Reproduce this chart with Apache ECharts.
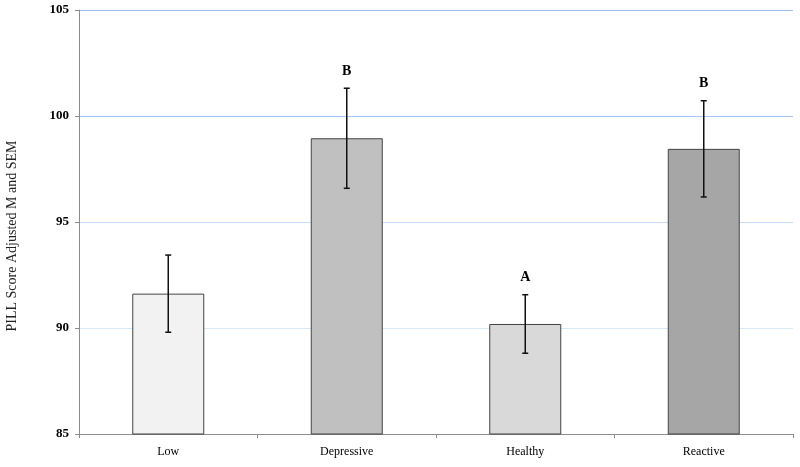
<!DOCTYPE html>
<html><head><meta charset="utf-8">
<script src="https://cdn.jsdelivr.net/npm/echarts@6/dist/echarts.min.js"></script>
<style>html,body{margin:0;padding:0;background:#fff}#c{width:800px;height:467px}</style>
</head><body><div id="c"></div>
<script>
const categories = ['Low', 'Depressive', 'Healthy', 'Reactive'];
const means = [91.62, 98.95, 90.19, 98.45];
const sems = [1.82, 2.36, 1.38, 2.27];
const letters = ['', 'B', 'A', 'B'];
const barColors = ['#f2f2f2', '#c0c0c0', '#d9d9d9', '#a6a6a6'];
const yTicks = [85, 90, 95, 100, 105];
const yAxisTitle = 'PILL Score Adjusted M and SEM';

const serif = '"Liberation Serif", "DejaVu Serif", serif';
const chart = echarts.init(document.getElementById('c'));
chart.setOption({
  animation: false,
  graphic: [{
    type: 'text', x: 12, y: 236, rotation: Math.PI / 2,
    style: { text: yAxisTitle, fill: '#222', font: '14px ' + serif, align: 'center', verticalAlign: 'middle' }
  }],
  grid: { left: 79, right: 7, top: 10, bottom: 33 },
  xAxis: {
    type: 'category', data: categories,
    axisLine: { lineStyle: { color: '#8c8c8c', width: 1 } },
    axisTick: { show: true, length: 4, lineStyle: { color: '#8c8c8c' } },
    axisLabel: { color: '#000', fontFamily: serif, fontSize: 12, margin: 12 }
  },
  yAxis: {
    type: 'value', min: yTicks[0], max: yTicks[yTicks.length - 1], interval: 5,
    axisLine: { show: true, lineStyle: { color: '#8c8c8c', width: 1 } },
    axisTick: { show: true, length: 4, lineStyle: { color: '#8c8c8c' } },
    axisLabel: { color: '#000', fontFamily: serif, fontSize: 13, fontWeight: 'bold', margin: 10 },
    splitLine: { show: true, lineStyle: { color: ['#ffffff', '#d6eaf8', '#c8def6', '#a9c5f1', '#a0bdf0'], width: 1 } }
  },
  series: [
    {
      type: 'bar', barWidth: 72,
      data: means.map((v, i) => ({ value: v, itemStyle: { color: barColors[i] } })),
      itemStyle: { borderColor: '#444', borderWidth: 1 }
    },
    {
      type: 'custom',
      data: means.map((v, i) => [i, v - sems[i], v + sems[i], letters[i]]),
      renderItem: function (params, api) {
        const x = api.coord([api.value(0), 0])[0];
        const lo = api.coord([api.value(0), api.value(1)])[1];
        const hi = api.coord([api.value(0), api.value(2)])[1];
        const st = { stroke: '#111', lineWidth: 1.5 };
        const children = [
          { type: 'line', shape: { x1: x, y1: lo, x2: x, y2: hi }, style: st },
          { type: 'line', shape: { x1: x - 3, y1: lo, x2: x + 3, y2: lo }, style: st },
          { type: 'line', shape: { x1: x - 3, y1: hi, x2: x + 3, y2: hi }, style: st },
          { type: 'text', x: x, y: hi - 10,
            style: { text: api.value(3), fill: '#000', font: 'bold 14px ' + serif, align: 'center', verticalAlign: 'bottom' } }
        ];
        return { type: 'group', children: children };
      },
      z: 5
    }
  ]
});
</script></body></html>
